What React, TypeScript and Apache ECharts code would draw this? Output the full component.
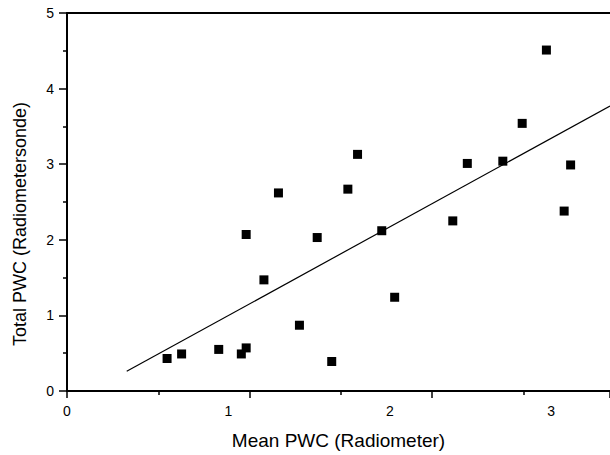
import React, { useEffect, useRef } from "react";
import * as echarts from "echarts";

// Mean PWC (Radiometer) vs Total PWC (Radiometersonde)
const meanPWC = [0.62, 0.71, 0.94, 1.08, 1.11, 1.11, 1.22, 1.31, 1.44, 1.55, 1.64, 1.74, 1.80, 1.95, 2.03, 2.39, 2.48, 2.70, 2.82, 2.97, 3.08, 3.12];
const totalPWC = [0.43, 0.49, 0.55, 0.49, 0.57, 2.07, 1.47, 2.62, 0.87, 2.03, 0.39, 2.67, 3.13, 2.12, 1.24, 2.25, 3.01, 3.04, 3.54, 4.51, 2.38, 2.99];

// regression line end points
const fitX = [0.37, 3.364];
const fitY = [0.26, 3.77];

const xLabelMax = 3.364; // axis used for labels and data
const xTickMax = 2.975;  // axis used for the tick marks
const yMin = 0;
const yMax = 5;

const FONT = "'Liberation Sans', Arial, Helvetica, sans-serif";
const AXIS_COLOR = "#000";

export default function App() {
  const ref = useRef<HTMLDivElement>(null);
  useEffect(() => {
    if (!ref.current) return;
    const chart = echarts.init(ref.current, undefined, { renderer: "svg" });
    chart.setOption({
      animation: false,
      backgroundColor: "#ffffff",
      grid: { left: 67, right: 0, top: 13, bottom: 62, containLabel: false },
      xAxis: [
        {
          type: "value",
          position: "bottom",
          min: 0,
          max: xLabelMax,
          interval: 1,
          name: "Mean PWC (Radiometer)",
          nameLocation: "middle",
          nameGap: 40,
          nameTextStyle: { fontFamily: FONT, fontSize: 19, color: "#000" },
          axisLine: { show: true, onZero: false, lineStyle: { color: AXIS_COLOR, width: 2 } },
          axisTick: { show: false },
          axisLabel: {
            show: true,
            margin: 13,
            fontFamily: FONT,
            fontSize: 14,
            color: "#000",
            showMaxLabel: false,
          },
          splitLine: { show: false },
        },
        {
          type: "value",
          position: "bottom",
          min: 0,
          max: xTickMax,
          interval: 1,
          axisLine: { show: false },
          axisTick: { show: true, inside: false, length: 7, lineStyle: { color: AXIS_COLOR, width: 1.5 } },
          minorTick: { show: true, splitNumber: 2, length: 4, lineStyle: { color: AXIS_COLOR, width: 1.5 } },
          axisLabel: { show: false },
          splitLine: { show: false },
        },
        {
          type: "value",
          position: "top",
          min: 0,
          max: xLabelMax,
          axisLine: { show: true, onZero: false, lineStyle: { color: AXIS_COLOR, width: 2 } },
          axisTick: { show: false },
          axisLabel: { show: false },
          splitLine: { show: false },
        },
      ],
      yAxis: {
        type: "value",
        min: yMin,
        max: yMax,
        interval: 1,
        axisLine: { show: true, onZero: false, lineStyle: { color: AXIS_COLOR, width: 2 } },
        axisTick: { show: true, inside: false, length: 8, lineStyle: { color: AXIS_COLOR, width: 1.5 } },
        minorTick: { show: true, splitNumber: 2, length: 4, lineStyle: { color: AXIS_COLOR, width: 1.5 } },
        axisLabel: { margin: 13, fontFamily: FONT, fontSize: 14, color: "#000" },
        splitLine: { show: false },
      },
      graphic: [
        {
          type: "text",
          x: 20,
          y: 224,
          rotation: Math.PI / 2,
          style: {
            text: "Total PWC (Radiometersonde)",
            fontFamily: FONT,
            fontSize: 18,
            fill: "#000",
            align: "center",
            verticalAlign: "middle",
          },
        },
      ],
      series: [
        {
          type: "line",
          xAxisIndex: 0,
          data: fitX.map((x, i) => [x, fitY[i]]),
          symbol: "none",
          lineStyle: { color: "#000", width: 1.2 },
          silent: true,
        },
        {
          type: "scatter",
          xAxisIndex: 0,
          data: meanPWC.map((x, i) => [x, totalPWC[i]]),
          symbol: "rect",
          symbolSize: 9,
          itemStyle: { color: "#000", opacity: 1 },
        },
      ],
    });
    return () => chart.dispose();
  }, []);
  return (
    <div
      ref={ref}
      style={{ position: "fixed", left: 0, top: 0, width: 610, height: 455, background: "#fff" }}
    />
  );
}
